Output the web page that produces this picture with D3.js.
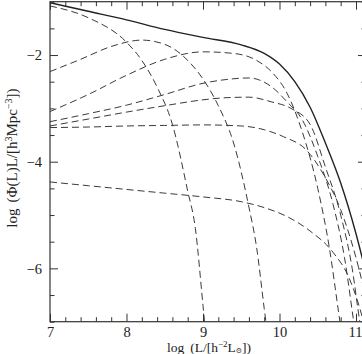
<!DOCTYPE html>
<html>
<head>
<meta charset="utf-8">
<script src="https://cdn.jsdelivr.net/npm/d3@7"></script>
<style>
  body { margin: 0; background: #fff; }
  text { font-family: "Liberation Serif", "DejaVu Serif", serif; fill: #222; }
</style>
</head>
<body>
<svg id="chart" width="362" height="354"></svg>
<script>
// tick values
const xMajor = [7, 8, 9, 10, 11];
const yMajor = [-2, -4, -6];

// total luminosity function (solid)
const totalX = [7.0, 7.5, 8.0, 8.5, 9.0, 9.5, 9.8, 10.0, 10.2, 10.4, 10.6, 10.8, 11.0, 11.15];
const totalY = [-1.02, -1.18, -1.34, -1.52, -1.67, -1.81, -1.97, -2.17, -2.5, -2.98, -3.65, -4.4, -5.35, -6.2];

// dashed components
const compAX = [7.0, 7.5, 8.0, 8.2, 8.4, 8.6, 8.8, 8.9, 9.0, 9.04];
const compAY = [-1.08, -1.3, -1.76, -2.1, -2.6, -3.3, -4.55, -5.25, -6.7, -7.3];

const compBX = [7.0, 7.4, 7.8, 8.2, 8.5, 8.8, 9.0, 9.2, 9.4, 9.6, 9.7, 9.8, 9.85];
const compBY = [-2.31, -2.08, -1.84, -1.72, -1.8, -2.1, -2.45, -2.95, -3.65, -4.85, -5.6, -6.75, -7.3];

const compCX = [7.0, 7.5, 8.0, 8.5, 9.0, 9.4, 9.7, 9.9, 10.1, 10.3, 10.5, 10.65, 10.78, 10.82];
const compCY = [-3.06, -2.74, -2.38, -2.08, -1.94, -1.97, -2.1, -2.32, -2.72, -3.45, -4.5, -5.6, -6.9, -7.3];

const compDX = [7.0, 7.5, 8.0, 8.5, 9.0, 9.3, 9.6, 9.9, 10.1, 10.3, 10.5, 10.7, 10.85, 10.97, 11.0];
const compDY = [-3.25, -3.1, -2.94, -2.74, -2.53, -2.46, -2.43, -2.6, -2.88, -3.22, -3.9, -4.8, -5.8, -7.0, -7.3];

const compEX = [7.0, 7.5, 8.0, 8.5, 9.0, 9.3, 9.6, 9.9, 10.15, 10.4, 10.6, 10.8, 10.95, 11.05, 11.1];
const compEY = [-3.33, -3.2, -3.07, -2.95, -2.84, -2.8, -2.79, -2.88, -3.0, -3.3, -4.1, -5.0, -6.0, -7.0, -7.4];

const compFX = [7.0, 7.5, 8.0, 8.5, 9.0, 9.5, 9.8, 10.05, 10.35, 10.6, 10.8, 11.0, 11.2];
const compFY = [-3.36, -3.35, -3.33, -3.32, -3.31, -3.33, -3.4, -3.53, -3.78, -4.3, -4.9, -5.8, -7.0];

const compGX = [7.0, 7.5, 8.0, 8.5, 9.0, 9.5, 9.8, 10.1, 10.4, 10.7, 10.9, 11.05, 11.15];
const compGY = [-4.38, -4.45, -4.52, -4.59, -4.66, -4.75, -4.86, -5.03, -5.3, -5.7, -6.15, -6.75, -7.3];

const comps = [
  [compAX, compAY], [compBX, compBY], [compCX, compCY], [compDX, compDY],
  [compEX, compEY], [compFX, compFY], [compGX, compGY]
];

const svg = d3.select("#chart");
const margins = { left: 50, top: 1.7, bottom: 321.7 };

const x = d3.scaleLinear().domain([7, 11]).range([margins.left, 356]);
const y = d3.scaleLinear().domain([-7, -1]).range([margins.bottom, margins.top]);
const plotRight = x(11.13);

svg.append("clipPath").attr("id", "clip")
  .append("rect")
  .attr("x", margins.left).attr("y", margins.top)
  .attr("width", plotRight - margins.left).attr("height", margins.bottom - margins.top);

const line = d3.line()
  .x((d) => x(d[0]))
  .y((d) => y(d[1]))
  .curve(d3.curveMonotoneX);

const plot = svg.append("g").attr("clip-path", "url(#clip)");

comps.forEach(([xs, ys]) => {
  plot.append("path")
    .datum(xs.map((v, i) => [v, ys[i]]))
    .attr("d", line)
    .attr("fill", "none")
    .attr("stroke", "#3a3a3a")
    .attr("stroke-width", 1)
    .attr("stroke-dasharray", "7,4");
});

plot.append("path")
  .datum(totalX.map((v, i) => [v, totalY[i]]))
  .attr("d", line)
  .attr("fill", "none")
  .attr("stroke", "#222")
  .attr("stroke-width", 1.4);

// minor tick positions
const xMinor = d3.range(7, 11.15, 0.2).filter((v) => Math.abs(v - Math.round(v)) > 0.01);
const yMinor = d3.range(-7, -0.99, 0.5).filter((v) => !yMajor.includes(v));

function styleAxis(g) {
  g.select(".domain").remove();
  g.selectAll(".tick line").attr("stroke", "#333").attr("stroke-width", 1);
  g.selectAll("text").attr("font-size", "14.5px").attr("fill", "#222")
    .attr("font-family", "Liberation Serif, DejaVu Serif, serif");
}

// bottom
const xAxisG = svg.append("g").attr("transform", `translate(0,${margins.bottom})`)
  .call(d3.axisBottom(x).tickValues(xMajor).tickSize(-8).tickPadding(5).tickFormat(d3.format("d")))
  .call(styleAxis);
// keep the last label inside the picture
xAxisG.selectAll(".tick text").filter((d) => d === 11).attr("text-anchor", "end").attr("dx", 6);
svg.append("g").attr("transform", `translate(0,${margins.bottom})`)
  .call(d3.axisBottom(x).tickValues(xMinor).tickSize(-4.5).tickFormat(""))
  .call(styleAxis);
// top
svg.append("g").attr("transform", `translate(0,${margins.top})`)
  .call(d3.axisTop(x).tickValues(xMajor).tickSize(-8).tickFormat(""))
  .call(styleAxis);
svg.append("g").attr("transform", `translate(0,${margins.top})`)
  .call(d3.axisTop(x).tickValues(xMinor).tickSize(-4.5).tickFormat(""))
  .call(styleAxis);
// left
svg.append("g").attr("transform", `translate(${margins.left},0)`)
  .call(d3.axisLeft(y).tickValues(yMajor).tickSize(-8).tickPadding(8).tickFormat(d3.format("d")))
  .call(styleAxis);
svg.append("g").attr("transform", `translate(${margins.left},0)`)
  .call(d3.axisLeft(y).tickValues(yMinor).tickSize(-4.5).tickFormat(""))
  .call(styleAxis);
// right
svg.append("g").attr("transform", `translate(${plotRight},0)`)
  .call(d3.axisRight(y).tickValues(yMajor).tickSize(-8).tickFormat(""))
  .call(styleAxis);
svg.append("g").attr("transform", `translate(${plotRight},0)`)
  .call(d3.axisRight(y).tickValues(yMinor).tickSize(-4.5).tickFormat(""))
  .call(styleAxis);

// frame
svg.append("rect")
  .attr("x", margins.left).attr("y", margins.top)
  .attr("width", plotRight - margins.left).attr("height", margins.bottom - margins.top)
  .attr("fill", "none").attr("stroke", "#333").attr("stroke-width", 1.2);

// axis titles
const xt = svg.append("text")
  .attr("x", 209).attr("y", 351.5)
  .attr("text-anchor", "middle").attr("font-size", "13.5px");
xt.append("tspan").text("log");
xt.append("tspan").attr("dx", 6).text("(L/[h");
xt.append("tspan").attr("font-size", "9px").attr("dy", -5).text("−2");
xt.append("tspan").attr("dy", 5).text("L");
xt.append("tspan").attr("font-size", "7.5px").attr("dy", 1.5).text("⊙");
xt.append("tspan").attr("dy", -1.5).text("])");

const yt = svg.append("text")
  .attr("transform", "translate(17,158) rotate(-90)")
  .attr("text-anchor", "middle").attr("font-size", "15px");
yt.append("tspan").text("log");
yt.append("tspan").attr("dx", 6).text("(Φ(L)L/[h");
yt.append("tspan").attr("font-size", "10px").attr("dy", -5).text("3");
yt.append("tspan").attr("dy", 5).text("Mpc");
yt.append("tspan").attr("font-size", "10px").attr("dy", -5).text("−3");
yt.append("tspan").attr("dy", 5).text("])");
</script>
</body>
</html>
